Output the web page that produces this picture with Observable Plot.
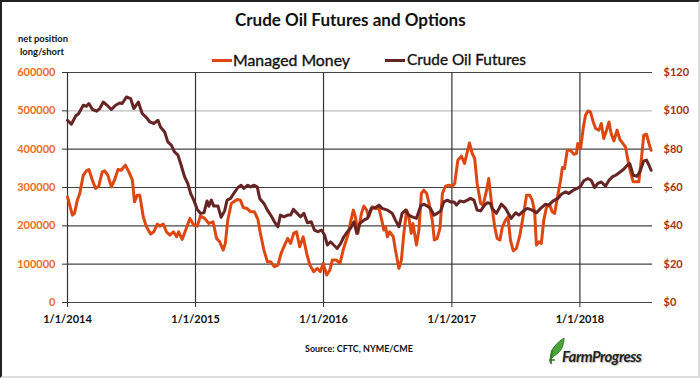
<!DOCTYPE html>
<html><head><meta charset="utf-8">
<script src="https://cdn.jsdelivr.net/npm/d3@7"></script>
<script src="https://cdn.jsdelivr.net/npm/@observablehq/plot@0.6"></script>
<style>
body{margin:0;background:#fff;}
#page{position:absolute;left:0;top:0;width:700px;height:378px;overflow:hidden;font-family:Lato,"Open Sans",sans-serif;background:#fff;}
#border{position:absolute;left:0;top:0;width:700px;height:378px;box-sizing:border-box;border-top:2px solid #222;border-left:2px solid #222;border-right:2px solid #ddd;border-bottom:2px solid #ddd;pointer-events:none;}
.t{position:absolute;white-space:nowrap;line-height:1;color:#111;}
#chart{position:absolute;left:0;top:62px;}
</style></head>
<body>
<div id="page">
  <div id="chart"></div>
  <div id="border"></div>
</div>
<script>
// ---- data ----
const mmDates = ["2014-01-01","2014-01-15","2014-01-21","2014-01-29","2014-02-05","2014-02-15","2014-02-24","2014-03-03","2014-03-13","2014-03-22","2014-03-31","2014-04-10","2014-04-17","2014-04-26","2014-05-06","2014-05-15","2014-05-25","2014-06-03","2014-06-15","2014-06-25","2014-07-05","2014-07-11","2014-07-19","2014-07-26","2014-08-05","2014-08-14","2014-08-26","2014-09-04","2014-09-14","2014-09-21","2014-10-01","2014-10-10","2014-10-20","2014-10-30","2014-11-08","2014-11-14","2014-11-24","2014-12-04","2014-12-16","2014-12-27","2015-01-06","2015-01-15","2015-01-27","2015-02-08","2015-02-20","2015-03-02","2015-03-11","2015-03-21","2015-03-27","2015-04-03","2015-04-13","2015-04-20","2015-04-30","2015-05-09","2015-05-17","2015-05-28","2015-06-07","2015-06-18","2015-06-28","2015-07-05","2015-07-15","2015-07-25","2015-08-03","2015-08-14","2015-08-24","2015-09-02","2015-09-12","2015-09-21","2015-09-29","2015-10-08","2015-10-16","2015-10-25","2015-11-04","2015-11-14","2015-11-23","2015-12-04","2015-12-14","2015-12-23","2015-12-31","2016-01-10","2016-01-19","2016-01-26","2016-02-07","2016-02-17","2016-02-26","2016-03-13","2016-03-18","2016-03-26","2016-04-01","2016-04-08","2016-04-18","2016-04-25","2016-05-03","2016-05-09","2016-05-19","2016-05-28","2016-06-07","2016-06-14","2016-06-21","2016-06-26","2016-07-01","2016-07-08","2016-07-18","2016-07-24","2016-08-03","2016-08-10","2016-08-17","2016-08-25","2016-08-31","2016-09-07","2016-09-12","2016-09-22","2016-09-29","2016-10-06","2016-10-13","2016-10-21","2016-10-27","2016-11-06","2016-11-12","2016-11-20","2016-11-28","2016-12-05","2016-12-14","2016-12-23","2017-01-02","2017-01-09","2017-01-18","2017-01-28","2017-02-06","2017-02-14","2017-02-20","2017-02-28","2017-03-07","2017-03-14","2017-03-24","2017-03-31","2017-04-10","2017-04-16","2017-04-23","2017-05-03","2017-05-10","2017-05-18","2017-05-25","2017-06-03","2017-06-10","2017-06-17","2017-06-25","2017-07-04","2017-07-14","2017-07-23","2017-08-02","2017-08-11","2017-08-18","2017-08-25","2017-08-30","2017-09-06","2017-09-13","2017-09-20","2017-09-28","2017-10-07","2017-10-14","2017-10-21","2017-10-30","2017-11-07","2017-11-12","2017-11-18","2017-11-26","2017-12-05","2017-12-15","2017-12-22","2017-12-26","2018-01-03","2018-01-11","2018-01-17","2018-01-24","2018-01-31","2018-02-08","2018-02-15","2018-02-24","2018-03-03","2018-03-10","2018-03-18","2018-03-25","2018-03-31","2018-04-08","2018-04-17","2018-04-25","2018-05-05","2018-05-11","2018-05-18","2018-05-25","2018-06-02","2018-06-11","2018-06-18","2018-06-25","2018-07-02","2018-07-10","2018-07-17","2018-07-23"];
const mmNet = [275600,228000,232400,267000,284500,332200,343400,347000,319100,297500,303500,340800,343400,332200,301700,319100,347000,345200,358200,340800,319100,262600,280100,280100,223500,197500,178500,184500,204500,199300,204500,184500,175900,184500,171400,184500,164700,188900,219400,201900,199300,225400,219400,206300,210500,167300,158400,136800,154200,214900,258400,262600,268900,267000,248000,245400,236600,236600,216800,180300,136800,106300,106300,93300,97700,128200,149800,167300,154200,180300,184500,145400,171400,128200,97700,80200,89100,80200,102100,71600,84700,110700,110700,102100,136800,183700,209700,241000,223500,180300,232400,251400,241000,223500,249600,245400,245400,219400,188900,197500,171400,184500,171400,136800,89100,110700,180300,241000,223500,180300,206300,149800,188900,284500,293100,284500,262600,214900,162800,167300,193300,284500,303500,306100,303500,310600,371300,381700,362700,392900,416300,388700,375700,310600,258400,254000,293100,323600,267000,197500,167300,162800,197500,214900,223500,162800,135000,141200,175900,223500,280100,280100,267000,236600,149800,158400,154200,214900,249600,254000,236600,232400,280100,319100,352200,349600,397300,397300,386900,388700,414800,401700,458000,488500,499700,497100,471000,453800,449400,466900,427800,449400,471000,440800,421500,449400,425200,412900,405900,371300,340800,314700,314700,314700,371300,436400,439000,414800,397300];

const oilDates = ["2014-01-01","2014-01-12","2014-01-24","2014-02-02","2014-02-15","2014-02-24","2014-03-03","2014-03-13","2014-03-25","2014-04-03","2014-04-13","2014-04-24","2014-05-06","2014-05-18","2014-05-30","2014-06-06","2014-06-18","2014-06-30","2014-07-09","2014-07-22","2014-08-02","2014-08-14","2014-08-24","2014-09-04","2014-09-16","2014-09-23","2014-10-05","2014-10-14","2014-10-24","2014-11-02","2014-11-12","2014-11-21","2014-12-01","2014-12-10","2014-12-18","2014-12-27","2015-01-06","2015-01-15","2015-01-25","2015-02-03","2015-02-08","2015-02-15","2015-02-22","2015-03-06","2015-03-15","2015-03-25","2015-04-01","2015-04-11","2015-04-20","2015-05-02","2015-05-11","2015-05-19","2015-05-30","2015-06-07","2015-06-16","2015-06-26","2015-07-03","2015-07-15","2015-07-25","2015-08-05","2015-08-14","2015-08-24","2015-08-31","2015-09-10","2015-09-21","2015-09-29","2015-10-07","2015-10-18","2015-10-27","2015-11-06","2015-11-16","2015-11-27","2015-12-06","2015-12-16","2015-12-26","2016-01-04","2016-01-12","2016-01-21","2016-01-30","2016-02-09","2016-02-19","2016-02-28","2016-03-09","2016-03-18","2016-03-28","2016-04-05","2016-04-14","2016-04-25","2016-05-05","2016-05-16","2016-05-28","2016-06-07","2016-06-16","2016-07-01","2016-07-15","2016-07-24","2016-08-03","2016-08-12","2016-08-22","2016-08-31","2016-09-10","2016-09-22","2016-10-04","2016-10-13","2016-10-23","2016-11-01","2016-11-11","2016-11-20","2016-11-30","2016-12-09","2016-12-19","2016-12-28","2017-01-07","2017-01-14","2017-01-24","2017-02-04","2017-02-14","2017-02-23","2017-03-05","2017-03-14","2017-03-24","2017-04-04","2017-04-12","2017-04-21","2017-04-26","2017-05-08","2017-05-22","2017-06-03","2017-06-19","2017-07-02","2017-07-11","2017-07-21","2017-08-04","2017-08-18","2017-08-30","2017-09-11","2017-09-25","2017-10-04","2017-10-17","2017-10-30","2017-11-09","2017-11-21","2017-11-30","2017-12-13","2017-12-24","2018-01-03","2018-01-12","2018-01-24","2018-02-02","2018-02-12","2018-02-21","2018-03-03","2018-03-15","2018-03-25","2018-04-03","2018-04-13","2018-04-22","2018-05-05","2018-05-16","2018-05-23","2018-06-02","2018-06-13","2018-06-21","2018-07-02","2018-07-10","2018-07-17","2018-07-23"];
const oilPrice = [95.1,93.0,97.2,98.6,102.9,102.4,103.8,100.7,99.8,101.2,104.6,102.9,100.7,102.9,104.1,103.8,107.2,106.4,101.2,104.6,98.6,96.5,94.2,93.4,95.1,91.6,89.0,83.8,82.1,78.6,76.9,71.6,65.5,62.1,56.9,53.4,48.6,46.5,46.8,53.0,50.2,53.4,50.3,50.3,44.4,47.8,53.4,54.3,56.9,60.0,61.2,59.5,61.2,60.3,61.2,60.3,54.3,51.7,48.2,45.1,42.1,39.5,45.6,44.7,45.6,45.6,48.6,46.5,44.7,46.5,41.6,42.1,37.8,36.9,37.8,35.2,30.0,31.7,30.0,28.2,30.8,34.3,36.9,38.7,42.1,36.1,41.3,43.0,43.9,49.1,49.6,50.8,49.1,48.2,46.5,43.0,39.5,46.5,48.2,45.6,44.7,43.9,50.3,51.3,50.3,49.1,45.6,46.5,47.8,52.5,53.4,52.5,52.5,50.8,53.0,52.5,53.4,54.3,53.4,48.2,47.8,50.8,52.0,51.7,49.1,46.5,51.3,49.1,43.9,46.8,45.6,47.3,49.1,48.2,46.8,49.1,51.3,50.8,53.0,54.3,56.5,57.7,56.9,58.6,59.5,60.7,63.5,64.7,63.8,60.0,62.1,62.9,60.7,63.8,65.5,66.4,67.6,69.4,71.6,72.5,66.4,65.9,68.2,73.9,74.3,71.6,69.0];

const netTicks = [0,100000,200000,300000,400000,500000,600000];
const priceTicks = [0,20,40,60,80,100,120];
const yearTicks = ["2014-01-01","2015-01-01","2016-01-01","2017-01-01","2018-01-01"];
const xDomain = ["2014-01-01","2018-07-27"];

const seriesNames = ["Managed Money","Crude Oil Futures"];
const titleText = "Crude Oil Futures and Options";
const yTitle = ["net position","long/short"];
const sourceText = "Source: CFTC, NYME/CME";

// ---- chart ----
const orange = "#DF4711", maroon = "#662424";
const k = 5000; // $1 on the right axis = 5000 contracts on the left axis
const mm = mmDates.map((d,i)=>({date:new Date(d), v:mmNet[i]}));
const oil = oilDates.map((d,i)=>({date:new Date(d), v:oilPrice[i]}));
const yd = yearTicks.map(d=>new Date(d));
const fmtDate = d => `${d.getUTCMonth()+1}/${d.getUTCDate()}/${d.getUTCFullYear()}`;

const chart = Plot.plot({
  width:700, height:280, marginTop:10, marginBottom:40, marginLeft:67, marginRight:48,
  style:{fontFamily:"Lato, 'Open Sans', sans-serif", fontSize:"11px", background:"transparent", overflow:"visible"},
  x:{type:"utc", domain:xDomain.map(d=>new Date(d))},
  y:{domain:[0,600000]},
  marks:[
    Plot.ruleY(netTicks.filter(d=>d!==500000), {stroke:"#444", strokeWidth:1.2}),
    Plot.ruleY([500000], {stroke:"#bdbdbd", strokeWidth:1.2}),
    Plot.ruleX(yd.slice(1), {y1:0, y2:600000, stroke:"#333", strokeWidth:1.2}),
    Plot.ruleX([yd[0]], {y1:0, y2:600000, stroke:"#333", strokeWidth:1.2}),
    Plot.axisY(netTicks, {anchor:"left", tickSize:5, tickPadding:7, stroke:"#333", fill:"#F26A1C", fontWeight:"bold", tickFormat:d=>String(d), label:null}),
    Plot.axisY(priceTicks.map(v=>v*k), {anchor:"right", tickSize:0, tickPadding:11, fill:"#A8320E", fontWeight:"bold", tickFormat:d=>"$"+(d/k), label:null}),
    Plot.axisX(yd, {tickSize:5, tickPadding:8, stroke:"#333", fill:"#111", fontWeight:"bold", tickFormat:fmtDate, label:null}),
    Plot.line(mm, {x:"date", y:"v", stroke:orange, strokeWidth:3, strokeLinejoin:"round"}),
    Plot.line(oil, {x:"date", y:d=>d.v*k, stroke:maroon, strokeWidth:3, strokeLinejoin:"round"})
  ]
});
document.getElementById("chart").appendChild(chart);

// ---- titles, legend, caption ----
const page = document.getElementById("page");
function place(text, x, w, cy, css){
  const el = document.createElement("div");
  el.className = "t"; el.textContent = text;
  Object.assign(el.style, css||{});
  page.insertBefore(el, document.getElementById("border"));
  const fs = parseFloat(getComputedStyle(el).fontSize);
  const r = el.getBoundingClientRect();
  const nfs = fs * w / r.width;
  el.style.fontSize = nfs + "px";
  const h = el.getBoundingClientRect().height;
  el.style.left = x + "px";
  el.style.top = (cy - h*0.53) + "px";
  return el;
}
function swatch(x, w, cy, color){
  const el = document.createElement("div");
  Object.assign(el.style,{position:"absolute", left:x+"px", top:(cy-1.5)+"px", width:w+"px", height:"3px", background:color});
  page.appendChild(el);
}
place(titleText, 235, 231, 20.5, {fontWeight:"bold", fontSize:"18px"});
place(yTitle[0], 18, 50, 39, {fontWeight:"bold", fontSize:"9px"});
place(yTitle[1], 20, 44, 52, {fontWeight:"bold", fontSize:"9px"});
swatch(212, 20, 60, orange);
place(seriesNames[0], 233, 117, 60, {fontSize:"16px", webkitTextStroke:"0.35px #111"});
swatch(385, 20, 60, maroon);
place(seriesNames[1], 407, 119, 60, {fontSize:"16px", webkitTextStroke:"0.35px #111"});
place(sourceText, 305, 108, 350, {fontWeight:"bold", fontSize:"9px"});

// logo
const logo = document.createElementNS("http://www.w3.org/2000/svg","svg");
logo.setAttribute("width","20"); logo.setAttribute("height","30");
Object.assign(logo.style,{position:"absolute", left:"546px", top:"336px"});
logo.innerHTML = '<path d="M4 27 C4 20 5 15 8 11 C11 7 15 4 18 2 C18 8 16 14 12 17 C10 19 7 20 6 22" fill="#4BA33A" stroke="#2E7D24" stroke-width="1"/><path d="M5 28 L6 14 M3 24 L9 24" stroke="#2E7D24" stroke-width="1.6" fill="none"/>';
page.appendChild(logo);
place("FarmProgress", 562, 78, 357, {fontStyle:"italic", fontWeight:"bold", fontSize:"12px", color:"#222", letterSpacing:"-0.5px", textShadow:"1px 1px 1px #bbb"});
</script>
</body></html>
